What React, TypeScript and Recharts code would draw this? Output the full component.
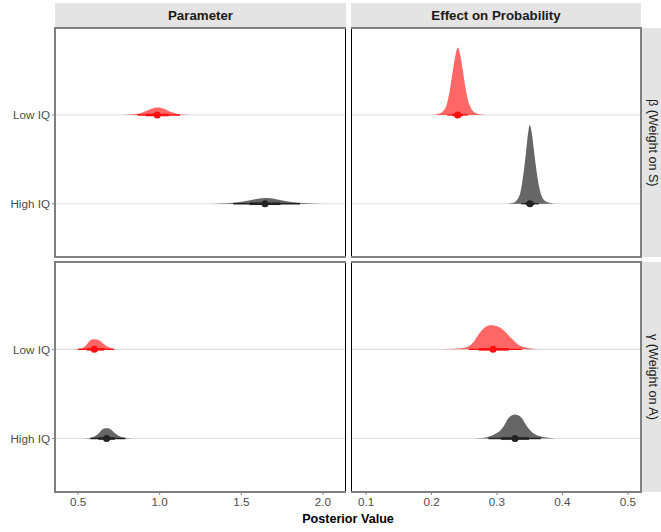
import React from 'react';
import { ComposedChart, Area, Line, Scatter, XAxis, YAxis, CartesianGrid } from 'recharts';

// ---------- data ----------
const categories = ['High IQ', 'Low IQ']; // y positions 1 and 2
const columnLabels = ['Parameter', 'Effect on Probability'];
const rowLabels = ['β (Weight on S)', 'γ (Weight on A)'];
const parameterTicks = [0.5, 1.0, 1.5, 2.0];
const effectTicks = [0.1, 0.2, 0.3, 0.4, 0.5];

// β – Parameter
const betaParamLowX = [0.78, 0.82, 0.86, 0.89, 0.92, 0.95, 0.97, 0.99, 1.01, 1.03, 1.05, 1.08, 1.11, 1.14, 1.19];
const betaParamLowD = [0.1, 0.4, 1.2, 2.3, 4.2, 6.3, 7.3, 7.5, 7.1, 5.9, 4.3, 2.4, 1.1, 0.4, 0.05];
const betaParamLowSummary = [0.985, 0.915, 1.055, 0.865, 1.125]; // median, q17, q83, q2.5, q97.5
const betaParamHighX = [1.32, 1.4, 1.46, 1.52, 1.57, 1.61, 1.645, 1.68, 1.72, 1.77, 1.82, 1.88, 1.95, 2.05];
const betaParamHighD = [0, 0.4, 1.2, 2.5, 4.0, 5.2, 5.7, 5.4, 4.3, 2.8, 1.5, 0.7, 0.3, 0];
const betaParamHighSummary = [1.645, 1.55, 1.74, 1.45, 1.86];

// β – Effect on Probability
const betaEffLowX = [0.2, 0.21, 0.218, 0.223, 0.228, 0.232, 0.236, 0.24, 0.244, 0.248, 0.252, 0.256, 0.261, 0.267, 0.275, 0.285];
const betaEffLowD = [0, 1, 4, 10, 25, 42, 58, 67.7, 60, 44, 27, 14, 6, 2, 0.5, 0];
const betaEffLowSummary = [0.24, 0.232, 0.248, 0.224, 0.256];
const betaEffHighX = [0.315, 0.325, 0.331, 0.336, 0.34, 0.344, 0.347, 0.35, 0.353, 0.356, 0.36, 0.364, 0.368, 0.373, 0.38, 0.39];
const betaEffHighD = [0, 1, 4, 12, 28, 50, 68, 79, 72, 56, 35, 18, 8, 3, 1, 0];
const betaEffHighSummary = [0.3504, 0.344, 0.357, 0.337, 0.364];

// γ – Parameter
const gammaParamLowX = [0.47, 0.5, 0.53, 0.555, 0.575, 0.595, 0.615, 0.635, 0.655, 0.68, 0.705, 0.73, 0.76];
const gammaParamLowD = [0, 0.5, 1.5, 5, 9, 10, 9.8, 8.5, 5.5, 2.8, 1.2, 0.4, 0];
const gammaParamLowSummary = [0.6, 0.555, 0.66, 0.5, 0.72];
const gammaParamHighX = [0.54, 0.57, 0.6, 0.625, 0.645, 0.665, 0.685, 0.705, 0.725, 0.745, 0.77, 0.8, 0.83];
const gammaParamHighD = [0, 0.5, 2, 5, 8.5, 10.2, 10.3, 8.5, 5.5, 3, 1.2, 0.4, 0];
const gammaParamHighSummary = [0.675, 0.625, 0.725, 0.575, 0.79];

// γ – Effect on Probability
const gammaEffLowX = [0.215, 0.235, 0.25, 0.258, 0.264, 0.27, 0.277, 0.284, 0.29, 0.297, 0.304, 0.31, 0.316, 0.322, 0.328, 0.334, 0.342, 0.352, 0.365, 0.375];
const gammaEffLowD = [0, 0.5, 1.5, 3.5, 7, 13, 19, 23, 24, 23.5, 22, 19, 15, 11, 7, 4, 2, 0.8, 0.2, 0];
const gammaEffLowSummary = [0.294, 0.272, 0.318, 0.257, 0.338];
const gammaEffHighX = [0.265, 0.278, 0.288, 0.297, 0.305, 0.311, 0.316, 0.321, 0.327, 0.333, 0.339, 0.344, 0.349, 0.355, 0.362, 0.372, 0.385, 0.395];
const gammaEffHighD = [0, 0.5, 2, 4.5, 8, 13, 19, 22.5, 24, 23, 19.5, 14, 9.5, 5.5, 3, 1.2, 0.3, 0];
const gammaEffHighSummary = [0.3275, 0.306, 0.349, 0.287, 0.367];

// ---------- styling ----------
const FONT = '"Liberation Sans", Arial, Helvetica, sans-serif';
const DENSITY_SCALE = 1 / 89;
const Y_DOMAIN = [0.4, 2.98];
const COLORS: Record<string, { fill: string; line: string }> = {
  'Low IQ': { fill: '#ff0000', line: '#ff1010' },
  'High IQ': { fill: '#000000', line: '#222222' },
};
const STRIP_BG = '#e4e4e4';

type Series = { group: string; xs: number[]; ds: number[]; summary: number[] };

const buildSeries = (group: string, xs: number[], ds: number[], summary: number[]): Series => ({ group, xs, ds, summary });

const panels = [
  {
    key: 'tl', left: 0, top: 28, width: 291, height: 229, showY: true, showX: false,
    domain: [0.359, 2.141], ticks: parameterTicks,
    series: [buildSeries('Low IQ', betaParamLowX, betaParamLowD, betaParamLowSummary), buildSeries('High IQ', betaParamHighX, betaParamHighD, betaParamHighSummary)],
  },
  {
    key: 'tr', left: 351, top: 28, width: 290, height: 229, showY: false, showX: false,
    domain: [0.077, 0.52], ticks: effectTicks,
    series: [buildSeries('Low IQ', betaEffLowX, betaEffLowD, betaEffLowSummary), buildSeries('High IQ', betaEffHighX, betaEffHighD, betaEffHighSummary)],
  },
  {
    key: 'bl', left: 0, top: 262, width: 291, height: 230, showY: true, showX: true,
    domain: [0.359, 2.141], ticks: parameterTicks,
    series: [buildSeries('Low IQ', gammaParamLowX, gammaParamLowD, gammaParamLowSummary), buildSeries('High IQ', gammaParamHighX, gammaParamHighD, gammaParamHighSummary)],
  },
  {
    key: 'br', left: 351, top: 262, width: 290, height: 230, showY: false, showX: true,
    domain: [0.077, 0.52], ticks: effectTicks,
    series: [buildSeries('Low IQ', gammaEffLowX, gammaEffLowD, gammaEffLowSummary), buildSeries('High IQ', gammaEffHighX, gammaEffHighD, gammaEffHighSummary)],
  },
];

const yOf = (group: string) => categories.indexOf(group) + 1;

function Panel(p: any) {
  const yAxisW = p.showY ? 55 : 0;
  const xAxisH = p.showX ? 32 : 0;
  return (
    <div style={{ position: 'absolute', left: p.left, top: p.top }}>
      <ComposedChart width={p.width + yAxisW} height={p.height + xAxisH} margin={{ top: 0, right: 0, bottom: 0, left: 0 }}>
        <CartesianGrid vertical={false} horizontal horizontalValues={[1, 2]} stroke="#dedede" strokeWidth={1.2} />
        <XAxis
          type="number" dataKey="x" domain={p.domain} ticks={p.ticks} allowDataOverflow
          hide={!p.showX} height={32} axisLine={false}
          tickLine={{ stroke: '#8a8a8a' }} tickSize={3} tickMargin={3}
          tick={{ fill: '#4d4d4d', fontSize: 11.7, fontFamily: FONT }}
          tickFormatter={(v: number) => v.toFixed(1)}
        />
        <YAxis
          type="number" dataKey="y" domain={Y_DOMAIN} ticks={[1, 2]} allowDataOverflow
          hide={!p.showY} width={55} axisLine={false}
          tickLine={{ stroke: '#8a8a8a' }} tickSize={3} tickMargin={2}
          tick={{ fill: '#4d4d4d', fontSize: 11.7, fontFamily: FONT }}
          tickFormatter={(v: number) => categories[v - 1]}
        />
        {p.series.map((s: Series) => {
          const base = yOf(s.group);
          const c = COLORS[s.group];
          const slab = s.xs.map((x, i) => ({ x, y: [base, base + s.ds[i] * DENSITY_SCALE] }));
          const [med, q17, q83, q025, q975] = s.summary;
          return (
            <React.Fragment key={s.group}>
              <Area data={slab} dataKey="y" type="monotone" fill={c.fill} fillOpacity={0.6} stroke="none" isAnimationActive={false} />
              <Line data={[{ x: q025, y: base }, { x: q975, y: base }]} dataKey="y" stroke={c.line} strokeWidth={1.3} dot={false} activeDot={false} isAnimationActive={false} />
              <Line data={[{ x: q17, y: base }, { x: q83, y: base }]} dataKey="y" stroke={c.line} strokeWidth={2.6} dot={false} activeDot={false} isAnimationActive={false} />
              <Scatter data={[{ x: med, y: base }]} dataKey="y" isAnimationActive={false}
                shape={(props: any) => <circle cx={props.cx} cy={props.cy} r={3.5} fill={c.line} />} />
            </React.Fragment>
          );
        })}
      </ComposedChart>
    </div>
  );
}

const Hline = ({ x, y, w, color = '#7f7f7f', h = 1.6 }: any) => (
  <div style={{ position: 'absolute', left: x, top: y, width: w, height: h, background: color }} />
);
const Vline = ({ x, y, h, color = '#000', w = 1.2 }: any) => (
  <div style={{ position: 'absolute', left: x, top: y, width: w, height: h, background: color }} />
);

export default function App() {
  return (
    <div style={{ position: 'absolute', left: 0, top: 0, width: 661, height: 532, background: '#fff', overflow: 'hidden', fontFamily: FONT }}>
      {/* top strips */}
      {columnLabels.map((lab, i) => (
        <div key={lab} style={{
          position: 'absolute', left: i === 0 ? 55 : 351, top: 3, width: i === 0 ? 291 : 290, height: 25,
          background: STRIP_BG, display: 'flex', alignItems: 'center', justifyContent: 'center',
          fontWeight: 'bold', fontSize: 13.3, color: '#1a1a1a',
        }}>{lab}</div>
      ))}
      {/* right strips */}
      {rowLabels.map((lab, i) => (
        <div key={lab} style={{
          position: 'absolute', left: 642, top: i === 0 ? 28 : 262, width: 22, height: i === 0 ? 229 : 230,
          background: STRIP_BG, display: 'flex', alignItems: 'center', justifyContent: 'center',
          fontSize: 12.6, color: '#1a1a1a', writingMode: 'vertical-rl', whiteSpace: 'nowrap',
        }}>{lab}</div>
      ))}

      {panels.map((p) => <Panel key={p.key} {...p} />)}

      {/* panel borders */}
      <Vline x={54.2} y={27.5} h={230} color="#808080" w={1.6} />
      <Vline x={345} y={27.5} h={230} />
      <Vline x={350.5} y={27.5} h={230} />
      <Vline x={640.2} y={27.5} h={230} color="#808080" w={1.6} />
      <Hline x={54.2} y={27.2} w={291.5} />
      <Hline x={350.5} y={27.2} w={291.3} />
      <Hline x={54.2} y={256} w={291.5} />
      <Hline x={350.5} y={256} w={291.3} />

      <Vline x={54.2} y={261.5} h={231} color="#808080" w={1.6} />
      <Vline x={345} y={261.5} h={231} />
      <Vline x={350.5} y={261.5} h={231} />
      <Vline x={640.2} y={261.5} h={231} color="#808080" w={1.6} />
      <Hline x={54.2} y={261.2} w={291.5} />
      <Hline x={350.5} y={261.2} w={291.3} />
      <Hline x={54.2} y={491.2} w={291.5} />
      <Hline x={350.5} y={491.2} w={291.3} />

      <div style={{
        position: 'absolute', left: 55, top: 512, width: 586, textAlign: 'center',
        fontWeight: 'bold', fontSize: 12.6, color: '#000',
      }}>Posterior Value</div>
    </div>
  );
}
